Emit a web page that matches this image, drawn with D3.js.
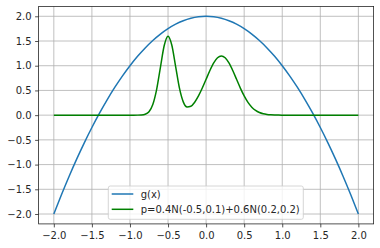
<!DOCTYPE html>
<html lang="en">
<head>
    <meta charset="UTF-8">
    <title>g(x) and Gaussian mixture p</title>
    <script src="https://d3js.org/d3.v7.min.js"></script>
    <style>
        body { margin: 0; background: #fff; }
        text { font-family: "DejaVu Sans", sans-serif; }
    </style>
</head>
<body>
    <script>
        // g(x) sampled every 0.1
        const gX = [-2.0, -1.9, -1.8, -1.7, -1.6, -1.5, -1.4, -1.3, -1.2, -1.1, -1.0,
                    -0.9, -0.8, -0.7, -0.6, -0.5, -0.4, -0.3, -0.2, -0.1, 0.0,
                    0.1, 0.2, 0.3, 0.4, 0.5, 0.6, 0.7, 0.8, 0.9, 1.0,
                    1.1, 1.2, 1.3, 1.4, 1.5, 1.6, 1.7, 1.8, 1.9, 2.0];
        const gY = [-2.00, -1.61, -1.24, -0.89, -0.56, -0.25, 0.04, 0.31, 0.56, 0.79, 1.00,
                    1.19, 1.36, 1.51, 1.64, 1.75, 1.84, 1.91, 1.96, 1.99, 2.00,
                    1.99, 1.96, 1.91, 1.84, 1.75, 1.64, 1.51, 1.36, 1.19, 1.00,
                    0.79, 0.56, 0.31, 0.04, -0.25, -0.56, -0.89, -1.24, -1.61, -2.00];

        // p(x)
        const pX = [-2.0, -1.5, -1.0, -0.95, -0.9, -0.85, -0.8, -0.75, -0.7, -0.65, -0.6,
                    -0.55, -0.5, -0.45, -0.4, -0.35, -0.3, -0.25, -0.2, -0.15, -0.1,
                    -0.05, 0.0, 0.05, 0.1, 0.15, 0.2, 0.25, 0.3, 0.35, 0.4,
                    0.45, 0.5, 0.55, 0.6, 0.65, 0.7, 0.75, 0.8, 0.85, 0.9,
                    0.95, 1.0, 1.05, 1.1, 1.5, 2.0];
        const pY = [0, 0, 0, 0.0001, 0.0005, 0.0035, 0.0177, 0.0701, 0.2161, 0.5183, 0.9683,
                    1.4094, 1.5984, 1.4144, 0.9812, 0.5454, 0.2686, 0.1653, 0.1797, 0.2623, 0.3891,
                    0.5480, 0.7259, 0.9034, 1.0562, 1.1600, 1.1968, 1.1600, 1.0562, 0.9034, 0.7259,
                    0.5479, 0.3886, 0.2588, 0.1620, 0.0952, 0.0526, 0.0273, 0.0133, 0.0061, 0.0026,
                    0.0011, 0.0004, 0.0001, 0, 0, 0];

        const xTicks = [-2.0, -1.5, -1.0, -0.5, 0.0, 0.5, 1.0, 1.5, 2.0];
        const yTicks = [-2.0, -1.5, -1.0, -0.5, 0.0, 0.5, 1.0, 1.5, 2.0];
        const labels = ["g(x)", "p=0.4N(-0.5,0.1)+0.6N(0.2,0.2)"];
        const colors = ["#1f77b4", "green"];

        const width = 380, height = 248;
        const margin = {left: 38.6, right: 6.4, top: 6.4, bottom: 24.1};

        const x = d3.scaleLinear().domain([-2.2, 2.2]).range([margin.left, width - margin.right]);
        const y = d3.scaleLinear().domain([-2.2, 2.2]).range([height - margin.bottom, margin.top]);

        const svg = d3.select("body").append("svg")
            .attr("width", width)
            .attr("height", height);

        // grid
        svg.append("g").selectAll("line").data(xTicks).enter().append("line")
            .attr("x1", d => x(d)).attr("x2", d => x(d))
            .attr("y1", y.range()[0]).attr("y2", y.range()[1])
            .attr("stroke", "#b0b0b0").attr("stroke-width", 0.8);
        svg.append("g").selectAll("line").data(yTicks).enter().append("line")
            .attr("y1", d => y(d)).attr("y2", d => y(d))
            .attr("x1", x.range()[0]).attr("x2", x.range()[1])
            .attr("stroke", "#b0b0b0").attr("stroke-width", 0.8);

        const fmt = d3.format(".1f");

        const xAxis = svg.append("g")
            .attr("transform", `translate(0,${height - margin.bottom})`)
            .call(d3.axisBottom(x).tickValues(xTicks).tickFormat(fmt).tickSize(3.5).tickPadding(5));
        const yAxis = svg.append("g")
            .attr("transform", `translate(${margin.left},0)`)
            .call(d3.axisLeft(y).tickValues(yTicks).tickFormat(fmt).tickSize(3.5).tickPadding(3.5));

        [xAxis, yAxis].forEach(a => {
            a.select(".domain").remove();
            a.selectAll("text").attr("font-size", 10).attr("fill", "#262626")
                .attr("font-family", "DejaVu Sans, sans-serif");
            a.selectAll("line").attr("stroke", "#262626").attr("stroke-width", 0.8);
        });

        // lines
        const line = d3.line().curve(d3.curveMonotoneX);
        svg.append("path")
            .attr("d", line(gX.map((v, i) => [x(v), y(gY[i])])))
            .attr("fill", "none").attr("stroke", colors[0]).attr("stroke-width", 1.5);
        svg.append("path")
            .attr("d", line(pX.map((v, i) => [x(v), y(pY[i])])))
            .attr("fill", "none").attr("stroke", colors[1]).attr("stroke-width", 1.5);

        // frame
        svg.append("rect")
            .attr("x", x.range()[0]).attr("y", y.range()[1])
            .attr("width", x.range()[1] - x.range()[0])
            .attr("height", y.range()[0] - y.range()[1])
            .attr("fill", "none").attr("stroke", "#262626").attr("stroke-width", 0.8);

        // legend
        const legend = svg.append("g").attr("transform", "translate(108.3,186)");
        legend.append("rect")
            .attr("width", 195).attr("height", 33.3).attr("rx", 2)
            .attr("fill", "white").attr("fill-opacity", 0.8)
            .attr("stroke", "#cccccc").attr("stroke-width", 0.8);
        const item = legend.selectAll(".item").data(labels).enter().append("g")
            .attr("class", "item")
            .attr("transform", (d, i) => `translate(0,${8 + i * 15.3})`);
        item.append("line")
            .attr("x1", 3.4).attr("x2", 25)
            .attr("stroke", (d, i) => colors[i]).attr("stroke-width", 1.5);
        item.append("text")
            .attr("x", 32.4).attr("dy", "0.35em")
            .attr("font-size", 10).attr("fill", "#262626")
            .text(d => d);
    </script>
</body>
</html>
